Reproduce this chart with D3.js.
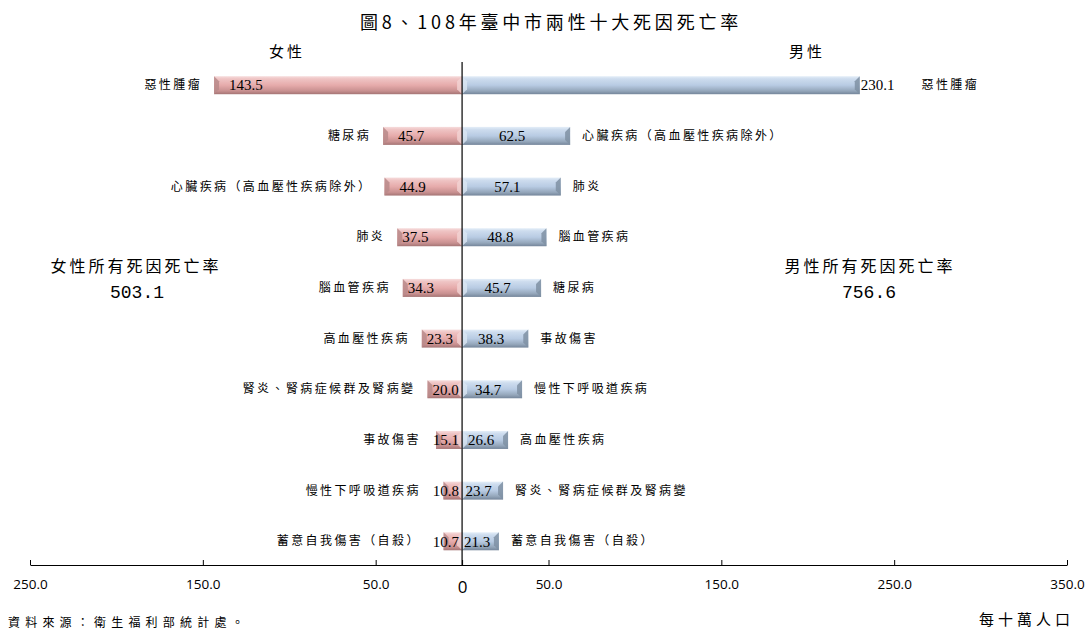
<!DOCTYPE html>
<html>
<head>
<meta charset="utf-8">
<script src="https://cdn.jsdelivr.net/npm/d3@7"></script>
<style>
  body { margin: 0; background: #fff; }
  svg { display: block; }
</style>
</head>
<body>
<svg width="1086" height="631"></svg>
<script>
// data (deaths per 100,000)
const femaleCauses = ["惡性腫瘤", "糖尿病", "心臟疾病（高血壓性疾病除外）", "肺炎", "腦血管疾病",
  "高血壓性疾病", "腎炎、腎病症候群及腎病變", "事故傷害", "慢性下呼吸道疾病", "蓄意自我傷害（自殺）"];
const femaleRates = [143.5, 45.7, 44.9, 37.5, 34.3, 23.3, 20.0, 15.1, 10.8, 10.7];
const maleCauses = ["惡性腫瘤", "心臟疾病（高血壓性疾病除外）", "肺炎", "腦血管疾病", "糖尿病",
  "事故傷害", "慢性下呼吸道疾病", "高血壓性疾病", "腎炎、腎病症候群及腎病變", "蓄意自我傷害（自殺）"];
const maleRates = [230.1, 62.5, 57.1, 48.8, 45.7, 38.3, 34.7, 26.6, 23.7, 21.3];
const ranks = [1, 2, 3, 4, 5, 6, 7, 8, 9, 10];
const xTicks = [-250, -150, -50, 0, 50, 150, 250, 350];
const femaleTotal = "503.1";
const maleTotal = "756.6";

const CJK = "'Noto Sans CJK TC', sans-serif";
const SERIF = "'Liberation Serif', serif";
const AXIS_Y = 565;
const BAR_H = 18;
const BEVEL = 5;

var svg = d3.select("svg");

var x_scale = d3.scaleLinear().domain([-250, 350]).range([30, 1067]);
var y_scale = d3.scaleBand().domain(ranks).range([60, 566.5]).paddingInner(0.645).paddingOuter(0.32);
var x0 = x_scale(0);

// gradients for the bevelled bars
var defs = svg.append("defs");
function add_gradient(id, stops) {
  var g = defs.append("linearGradient").attr("id", id)
    .attr("x1", 0).attr("y1", 0).attr("x2", 0).attr("y2", 1);
  stops.forEach(s => g.append("stop").attr("offset", s[0]).attr("stop-color", s[1]));
}
add_gradient("fem", [[0, "#f6dcdc"], [0.15, "#efc4c4"], [0.5, "#e6abab"], [0.82, "#c89090"], [1, "#a47474"]]);
add_gradient("mal", [[0, "#e4eef8"], [0.15, "#cddcee"], [0.5, "#b8cbe3"], [0.82, "#94a6ba"], [1, "#74859a"]]);

function draw_bar(xa, xb, y, fill, endDark, endLight, outerIsLeft) {
  var g = svg.append("g");
  g.append("rect").attr("x", xa).attr("y", y).attr("width", xb - xa).attr("height", BAR_H)
    .attr("fill", "url(#" + fill + ")");
  var b = Math.min(BEVEL, (xb - xa) / 2);
  // outer end bevel
  var xo = outerIsLeft ? xa : xb, d = outerIsLeft ? b : -b;
  g.append("polygon")
    .attr("points", [[xo, y], [xo + d, y + b], [xo + d, y + BAR_H - b], [xo, y + BAR_H]].join(" "))
    .attr("fill", endDark).attr("opacity", 0.85);
  // inner end bevel
  var xi = outerIsLeft ? xb : xa;
  g.append("polygon")
    .attr("points", [[xi, y], [xi - d, y + b], [xi - d, y + BAR_H - b], [xi, y + BAR_H]].join(" "))
    .attr("fill", endLight).attr("opacity", 0.8);
}

// female bars (left)
femaleRates.forEach((v, i) => {
  draw_bar(x_scale(-v), x0, y_scale(ranks[i]), "fem", "#b98a8a", "#f3d3d3", true);
});
// male bars (right)
maleRates.forEach((v, i) => {
  draw_bar(x0, x_scale(v), y_scale(ranks[i]), "mal", "#7f90a3", "#dbe6f3", false);
});

// centre line and axis
svg.append("line").attr("x1", x0).attr("x2", x0).attr("y1", 62).attr("y2", AXIS_Y)
  .attr("stroke", "#000").attr("stroke-width", 1.2);

var xAxis = d3.axisBottom(x_scale).tickValues(xTicks)
  .tickSizeInner(-5).tickSizeOuter(0).tickPadding(14)
  .tickFormat(d => d === 0 ? "0" : Math.abs(d).toFixed(1));
var ax = svg.append("g").attr("transform", "translate(0," + AXIS_Y + ")").call(xAxis);
ax.select(".domain").attr("stroke", "#000").attr("stroke-width", 1.2);
ax.selectAll(".tick line").attr("stroke", "#000");
ax.selectAll(".tick text").attr("fill", "#000")
  .style("font-family", "'Open Sans', sans-serif").style("font-size", "13.5px");
ax.selectAll(".tick").filter(d => d === 0).select("text")
  .attr("y", 16).style("font-size", "17px");

// value and category labels
var labels = svg.append("g");
femaleRates.forEach((v, i) => {
  var cy = y_scale(ranks[i]) + BAR_H / 2;
  var barEnd = x_scale(-v);
  var t = labels.append("text").attr("y", cy).attr("dy", "0.35em")
    .style("font-family", SERIF).style("font-size", "15px").text(v.toFixed(1));
  var w = t.node().getComputedTextLength();
  var start = barEnd + (x0 - barEnd > 70 ? 15 : 5);
  if (start + w > x0 - 3) start = x0 - 3 - w;
  t.attr("x", start);
  labels.append("text").attr("x", Math.min(barEnd, start) - 12).attr("y", cy).attr("dy", "0.35em")
    .attr("text-anchor", "end")
    .style("font-family", CJK).style("font-size", "12px").style("letter-spacing", "2.4px")
    .text(femaleCauses[i]);
});
maleRates.forEach((v, i) => {
  var cy = y_scale(ranks[i]) + BAR_H / 2;
  var barEnd = x_scale(v);
  var t = labels.append("text").attr("y", cy).attr("dy", "0.35em")
    .style("font-family", SERIF).style("font-size", "15px").text(v.toFixed(1));
  var w = t.node().getComputedTextLength();
  var start = i === 0 ? barEnd + 1 : Math.max(x0 + 2, (x0 + barEnd) / 2 - 4 - w / 2);
  t.attr("x", start);
  var gap = i === 0 ? 27 : 12;
  labels.append("text").attr("x", Math.max(barEnd, start + w) + gap).attr("y", cy).attr("dy", "0.35em")
    .style("font-family", CJK).style("font-size", "12px").style("letter-spacing", "2.4px")
    .text(maleCauses[i]);
});

// titles and notes
function add_text(x, y, str, size, spacing, anchor, family) {
  return svg.append("text").attr("x", x).attr("y", y).attr("text-anchor", anchor || "middle")
    .style("font-family", family || CJK).style("font-size", size + "px")
    .style("letter-spacing", spacing + "px").text(str);
}
add_text(551, 29, "圖8、108年臺中市兩性十大死因死亡率", 18, 3.8);
add_text(287, 57, "女性", 15, 3);
add_text(807, 57, "男性", 15, 3);
add_text(136, 272, "女性所有死因死亡率", 16, 3);
add_text(137, 298, femaleTotal, 18, 0, "middle", "'Liberation Mono', monospace");
add_text(870, 272, "男性所有死因死亡率", 16, 3);
add_text(869, 298, maleTotal, 18, 0, "middle", "'Liberation Mono', monospace");
add_text(8, 627, "資料來源：衛生福利部統計處。", 12, 5.2, "start");
add_text(1074, 625, "每十萬人口", 15, 4, "end");
</script>
</body>
</html>
